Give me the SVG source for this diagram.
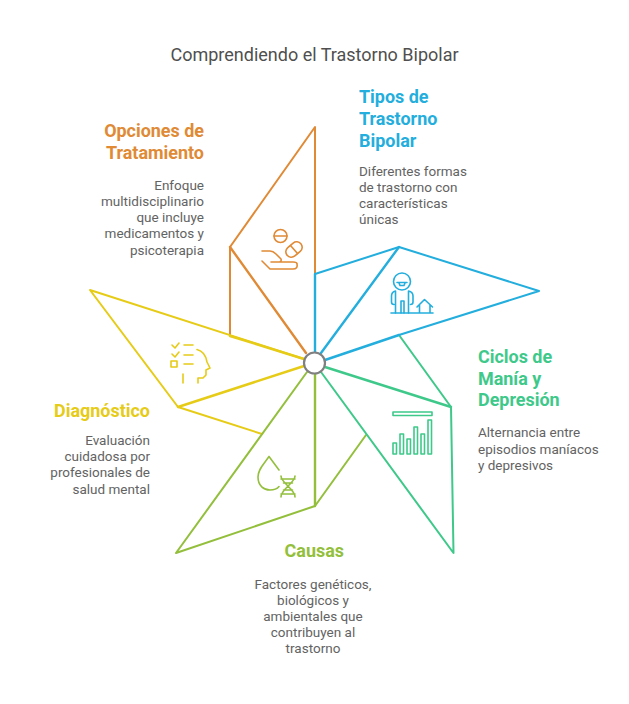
<svg xmlns="http://www.w3.org/2000/svg" width="629" height="704" viewBox="0 0 629 704">
<style>
text{font-family:Roboto,"Liberation Sans",sans-serif}
.t{font-size:17.950px;font-weight:700}
.d{font-size:13.500px;fill:#636363}
.e{text-anchor:end}
.m{text-anchor:middle}
.ln{fill:none;stroke-linecap:round;stroke-linejoin:round}
.th{stroke-width:2}
.tk{stroke-width:2.400}
.ic{fill:none;stroke-width:1.600;stroke-linecap:round;stroke-linejoin:round}
.or{stroke:#e08a35}.bl{stroke:#23aedd}.gr{stroke:#3ec98a}.li{stroke:#93bf3c}.ye{stroke:#e6cb17}
</style>
<rect width="629" height="704" fill="#fff"/>
<text x="314.500" y="61" class="m" font-size="18" fill="#4f4f4f">Comprendiendo el Trastorno Bipolar</text>
<g id="connectors" class="ln">
<path class="or th" d="M230 336V247L315 127V274"/>
<path class="or tk" d="M230 247L306 353"/>
<path class="ye th" d="M304 359L90 290L178 407L262 434"/>
<path class="ye tk" d="M230 336L304 359M178 407L304 366"/>
<path class="li th" d="M307 372L176 553L315 506L366 435"/>
<path class="li tk" d="M315 374V506"/>
<path class="gr th" d="M399 335L451 407L453.500 553L321 372"/>
<path class="gr tk" d="M325 367L451 407"/>
<path class="bl th" d="M315 274L399 247L539 291L399 335"/>
<path class="bl tk" d="M315 274V352M399 247L321 353M399 335L325 360"/>
</g>
<circle id="hub" cx="314.500" cy="363" r="10.500" fill="#fff" stroke="#808080" stroke-width="2.200"/>
<g id="node-opciones">
<text class="t e" fill="#e08a35"><tspan x="204" y="137">Opciones de</tspan><tspan x="204" y="159">Tratamiento</tspan></text>
<text class="d e"><tspan x="204" y="190">Enfoque</tspan><tspan x="204" y="206">multidisciplinario</tspan><tspan x="204" y="222">que incluye</tspan><tspan x="204" y="238">medicamentos y</tspan><tspan x="204" y="255">psicoterapia</tspan></text>
<g class="ic or">
<circle cx="280.500" cy="236" r="6.500"/><path d="M274 236H287"/>
<rect x="285" y="244" width="18" height="11" rx="5.500" transform="rotate(-40 294 249.500)"/><path d="M290.500 245.500L297.500 253.500"/>
<path d="M262 251H270Q273 251 276 254L281 259Q282 262 278 262H271M262 261L270 269H293Q298 269 297 264Q297 262 293 262H278"/>
</g>
</g>
<g id="node-tipos">
<text class="t" fill="#23aedd"><tspan x="359" y="103">Tipos de</tspan><tspan x="359" y="125">Trastorno</tspan><tspan x="359" y="147">Bipolar</tspan></text>
<text class="d"><tspan x="359" y="176">Diferentes formas</tspan><tspan x="359" y="192">de trastorno con</tspan><tspan x="359" y="208">características</tspan><tspan x="359" y="224">únicas</tspan></text>
<g class="ic bl">
<circle cx="402" cy="281.500" r="8.500"/><path d="M397 282.500H407M399 283L400 285.500H404L405 283"/>
<path d="M395.500 291Q391.500 292 391.500 296V302Q391.500 304.500 394 304.500M408.500 291Q413 292 413 296V302Q413 304.500 410.500 304.500M395.500 291V313M408.500 291V313M401 301V313M404 301V313M401 301H404"/>
<path d="M391 313H433M417 307L424.500 299.500L432.500 307M419.500 305V313M430 305V313"/>
</g>
</g>
<g id="node-ciclos">
<text class="t" fill="#3ec98a"><tspan x="478" y="363">Ciclos de</tspan><tspan x="478" y="385">Manía y</tspan><tspan x="478" y="406">Depresión</tspan></text>
<text class="d"><tspan x="478" y="437">Alternancia entre</tspan><tspan x="478" y="454">episodios maníacos</tspan><tspan x="478" y="470">y depresivos</tspan></text>
<g class="ic gr">
<rect x="393" y="412" width="39" height="3.500"/>
<rect x="393" y="443" width="3.500" height="11"/><rect x="400" y="434" width="3.500" height="20"/><rect x="407" y="439" width="3.500" height="15"/><rect x="414" y="427" width="3.500" height="27"/><rect x="421" y="434" width="3.500" height="20"/><rect x="428" y="420" width="3.500" height="34"/>
</g>
</g>
<g id="node-causas">
<text class="t e" x="344" y="557" fill="#93bf3c">Causas</text>
<text class="d m"><tspan x="313" y="589">Factores genéticos,</tspan><tspan x="313" y="605">biológicos y</tspan><tspan x="313" y="621">ambientales que</tspan><tspan x="313" y="637">contribuyen al</tspan><tspan x="313" y="653">trastorno</tspan></text>
<g class="ic li">
<path d="M269 456.500C264 464 258 469 258 477C258 486 264 490 270 490C274 490 277 489 279 486.500M269 456.500L279 470"/>
<path d="M281 476C281 483 295 489 295 497M295 476C295 483 281 489 281 497M281 479H295M283.500 483H292.500M283.500 490H292.500M281 494H295"/>
</g>
</g>
<g id="node-diagnostico">
<text class="t e" x="150" y="417" fill="#e6cb17">Diagnóstico</text>
<text class="d e"><tspan x="150" y="445">Evaluación</tspan><tspan x="150" y="461">cuidadosa por</tspan><tspan x="150" y="477">profesionales de</tspan><tspan x="150" y="494">salud mental</tspan></text>
<g class="ic ye">
<path d="M172 345L175 348L179 343M172 354L175 357L179 352"/>
<rect x="171" y="361" width="6" height="6"/>
<path d="M184 345H193M184 355H193M184 364H193M183 374V383"/>
<path d="M197 349.500C203 351 206 356 207 362L210 368L206 370V375L203 378H198V383"/>
</g>
</g>
</svg>
